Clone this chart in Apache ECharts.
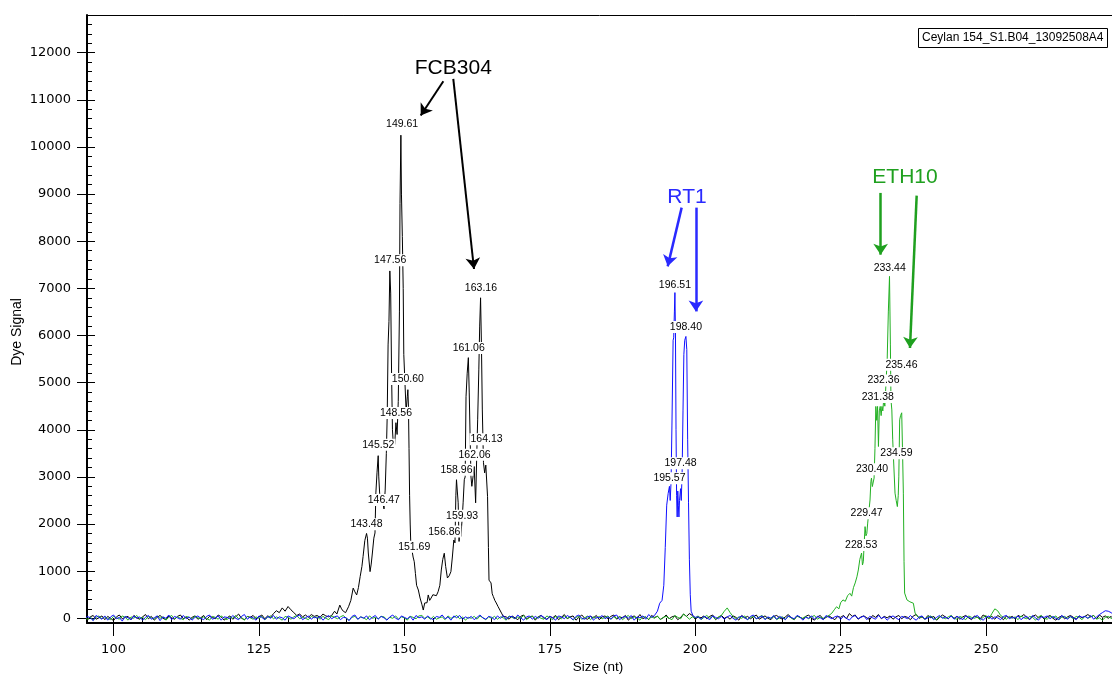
<!DOCTYPE html>
<html><head><meta charset="utf-8">
<script src="https://cdn.jsdelivr.net/npm/echarts@6/dist/echarts.min.js"></script>
<style>html,body{margin:0;padding:0;background:#fff}#c{width:1112px;height:677px}</style>
</head><body><div id="c"></div>
<script>
// ---------- DATA ----------
const sampleTitle = 'Ceylan 154_S1.B04_13092508A4';
const xTickLabels = [100, 125, 150, 175, 200, 225, 250];
const yTickLabels = [0, 1000, 2000, 3000, 4000, 5000, 6000, 7000, 8000, 9000, 10000, 11000, 12000];

// baseline noise, one value every 0.5 nt starting at 95.0 nt
const GRID_START = 95.0, GRID_STEP = 0.5;
const blackNoise = [
 20,-40,30,60,-20,10,50,-30,40,0,-50,30,70,-10,20,40,-30,60,10,-20,
 30,80,-10,40,-40,20,60,0,-30,50,10,-20,40,70,-10,30,-40,20,50,-20,
 10,60,-30,40,20,-10,70,30,-40,10,50,-20,30,90,0,-30,40,20,60,-10,
 30,70,-10,50,20,100,160,120,220,150,250,180,120,60,90,30,70,20,80,40,
 60,20,90,50,30,0,0,0,0,0,0,0,0,0,0,0,0,0,0,0,
 0,0,0,0,0,0,0,0,0,0,0,0,0,0,0,0,0,0,0,0,
 0,0,0,0,0,0,0,0,0,0,0,0,0,0,0,0,0,0,0,0,
 0,0,0,0,0,30,-20,50,10,-30,40,70,-10,20,50,-40,30,60,0,-20,
 40,10,60,-30,20,80,-10,30,50,-40,20,70,0,-20,40,10,60,-30,30,50,
 -10,40,70,-20,30,10,60,-40,20,50,0,80,-10,30,-30,60,20,40,-20,10,
 70,-10,30,50,-30,20,90,40,100,60,-20,30,10,50,-10,40,70,-30,20,60,
 0,30,-20,50,20,-40,60,10,40,-10,30,70,-20,20,50,0,-30,40,60,10,
 -20,30,80,10,-30,50,20,-10,40,70,0,-40,30,60,-20,20,50,10,-30,40,
 20,60,-10,100,40,70,-20,30,50,10,-30,60,20,80,-10,40,10,50,-20,30,
 60,-10,40,20,-30,50,80,0,30,-20,60,10,40,-40,20,70,30,-10,50,0,
 40,-20,30,60,10,-30,50,20,-10,70,30,0,40,-20,60,20,-30,50,10,40,
 -10,60,30,80,20,-30,40,70,10,50,-20,30,60,0,-40,20,50,-10,30,60,
 20,-20,50,10,40,80,30,60,-10,70,20,50,0,40,-30,60,30,10,50,20
];
const blueNoise = [
 -30,40,10,-50,60,20,-20,50,-40,30,70,-10,20,-60,40,10,-30,50,0,30,
 -40,20,60,-20,10,50,-50,30,0,70,-30,40,10,-20,60,-10,30,-40,20,50,
 0,-30,40,70,-20,10,50,-40,30,20,-10,60,0,-30,40,80,-20,30,10,-40,
 50,20,-30,40,0,60,-20,30,10,-40,50,20,-10,40,70,-30,10,50,-20,30,
 0,40,-40,20,60,-10,30,50,-30,20,10,-50,40,70,-20,30,0,50,-30,20,
 60,-20,40,10,-40,30,70,0,-30,50,20,-10,40,-40,60,10,30,-20,50,0,
 -30,40,20,70,-10,30,-40,50,10,60,-20,30,0,40,-30,20,70,10,-20,40,
 20,-30,50,0,60,-20,30,40,-10,70,10,-40,30,50,-20,40,0,60,20,-30,
 40,10,-40,50,30,-10,60,20,-30,40,70,0,-20,30,50,-40,20,10,60,-10,
 30,-20,50,70,-30,20,40,0,60,-40,30,10,50,-20,80,0,0,0,0,0,
 0,0,0,0,0,0,0,0,0,0,0,30,-20,40,10,-30,50,20,-10,40,
 -20,30,60,0,-40,20,50,10,-30,40,70,-10,20,50,-30,30,0,60,-20,40,
 10,-30,50,20,-10,60,30,-40,20,0,50,-20,40,10,-30,60,20,-10,30,50,
 -20,40,0,-40,30,60,-10,20,50,-30,40,10,-20,60,0,30,-40,20,50,10,
 -30,40,20,-10,60,0,-40,30,50,-20,10,40,-30,20,60,0,30,-10,50,-20,
 40,10,-30,50,20,-10,30,60,0,-40,20,50,-20,30,10,-30,40,60,-10,20,
 0,50,-30,20,40,-20,60,10,-40,30,20,50,-10,40,0,-30,60,20,-20,40,
 10,-30,50,20,40,0,60,-20,30,80,120,160,150,120,60,40,20,30,10,0
];
const greenNoise = [
 10,-20,30,-40,20,50,-10,30,0,-30,40,10,-20,50,20,-40,30,0,60,-10,
 20,-30,40,10,-20,50,0,30,-40,20,60,-10,30,0,-30,40,20,-20,50,10,
 -10,30,0,-40,40,20,-20,50,10,-30,30,0,60,-10,20,-40,40,10,-20,30,
 0,40,-30,20,50,-10,30,0,-40,40,20,-20,30,60,-10,20,0,-30,40,10,
 30,-20,40,0,-30,50,20,-10,30,60,0,-40,20,40,-20,30,10,-30,50,0,
 20,-10,40,30,-30,20,0,50,-20,30,10,-40,40,20,-10,50,60,0,30,-20,
 40,-20,10,30,-30,50,0,20,60,-10,30,-40,20,0,40,-20,50,10,-30,30,
 0,40,-20,30,10,-40,50,20,-10,30,0,60,-30,20,40,-10,30,0,-20,50,
 10,-30,40,20,-10,50,0,30,-40,20,40,-20,10,50,-30,30,0,40,-10,20,
 50,-20,30,0,40,-30,20,60,-10,30,10,-40,40,20,-20,30,0,50,-30,20,
 40,0,-30,60,20,-10,90,40,-20,30,10,50,-30,20,60,0,40,-20,30,60,
 150,220,120,40,-20,30,0,50,-30,20,40,-10,30,60,-20,20,0,40,-30,10,
 30,-20,40,10,-30,50,20,0,40,-10,30,60,-20,20,0,0,0,0,0,0,
 0,0,0,0,0,0,0,0,0,0,0,0,0,0,0,0,0,0,0,0,
 0,0,0,0,0,0,0,0,40,-20,30,50,0,-30,40,20,-10,30,60,0,
 -20,40,10,-30,50,20,0,30,-40,20,60,-10,100,200,160,60,20,-20,40,0,
 30,-30,50,10,-10,40,20,-40,30,60,0,-20,40,10,50,-30,20,40,0,30,
 -10,40,20,-30,50,0,30,60,-20,10,-40,20,40,0,-20,30,10,50,-10,20
];

// FCB304 (black) peak region
const blackPeakSizes = [137.5,138.0,138.4,138.9,139.2,139.5,139.9,140.4,140.8,141.2,141.5,141.8,142.1,142.4,142.7,142.9,143.2,143.5,143.65,143.8,
 144.1,144.3,144.5,144.75,144.95,145.1,145.3,145.5,145.6,145.75,145.9,146.1,146.3,146.5,146.7,146.9,147.05,147.2,147.35,147.5,
 147.65,147.8,147.95,148.15,148.35,148.55,148.75,148.95,149.15,149.25,149.4,149.5,149.65,149.8,149.9,150.1,150.3,150.5,150.6,150.7,
 150.8,150.9,151.0,151.1,151.3,151.5,151.7,151.9,152.1,152.4,152.7,153.0,153.25,153.5,153.9,154.1,154.35,154.6,154.9,155.2,
 155.5,155.8,156.1,156.35,156.6,156.86,157.1,157.4,157.7,158.0,158.25,158.5,158.7,158.85,158.96,159.1,159.25,159.4,159.55,159.7,
 159.93,160.1,160.3,160.45,160.6,160.8,161.0,161.15,161.3,161.45,161.6,161.8,162.0,162.1,162.25,162.45,162.6,162.8,162.95,163.1,
 163.25,163.4,163.6,163.8,164.0,164.15,164.3,164.45,164.55,164.9,165.1,165.3,165.55,165.8,166.1,166.4,166.7,167.0];
const blackPeakSignal = [60,150,90,280,200,150,120,245,380,640,560,495,650,885,1100,1310,1650,1800,1700,1385,
 990,1150,1385,1700,1810,2660,3100,3450,3000,2650,2500,2600,2450,2320,2720,3500,4300,5800,6300,7370,
 6900,5200,4000,3600,3700,4150,3900,4600,6500,8800,10250,9000,8100,7000,5600,5000,4400,4700,4850,4500,
 3600,2600,2000,1590,1450,1300,1200,950,700,600,430,300,175,325,330,495,380,430,500,535,
 480,565,700,1025,1250,1380,1100,855,900,990,1300,1660,1600,2600,2940,2700,2450,1630,1900,1735,
 2100,2450,2940,3000,4700,5200,5530,4800,3860,3000,2800,3000,3220,3250,2450,3500,4210,5270,6200,6800,
 5800,4420,3300,3085,3250,3255,2580,1500,810,750,520,460,380,325,250,220,110,40];

// RT1 (blue) peak region
const bluePeakSizes = [192.5,193.0,193.5,193.9,194.3,194.6,194.85,195.1,195.35,195.57,195.7,195.85,196.0,196.2,196.3,196.42,196.51,196.6,196.7,196.8,
 196.9,197.0,197.1,197.2,197.3,197.48,197.6,197.75,197.9,198.05,198.2,198.4,198.55,198.7,198.85,199.0,199.15,199.3,199.6,200.0];
const bluePeakSignal = [20,60,150,320,380,700,1500,2400,2650,2800,2500,2900,4100,5900,5950,6500,6910,6100,4000,2600,
 2150,2700,2400,2150,2500,2750,2500,3100,4400,5600,5900,5980,5700,3800,2450,1240,500,150,60,20];

// ETH10 (green) peak region
const greenPeakSizes = [222.5,223.0,223.5,223.9,224.3,224.7,225.0,225.4,225.8,226.2,226.6,226.9,227.2,227.5,227.8,228.04,228.3,228.6,228.75,228.9,
 229.05,229.2,229.35,229.5,229.65,229.8,230.05,230.2,230.3,230.45,230.6,230.75,230.9,231.05,231.2,231.35,231.5,231.65,231.8,231.96,
 232.1,232.25,232.4,232.6,232.8,233.0,233.2,233.4,233.55,233.65,233.8,233.95,234.1,234.35,234.55,234.75,234.9,235.0,235.15,235.3,
 235.5,235.65,235.78,235.9,236.0,236.4,236.7,236.9,237.2,237.5,237.8,238.2,238.6];
const greenPeakSignal = [30,60,110,180,245,200,330,390,360,480,530,470,650,750,880,1025,1250,1385,1130,1200,
 1600,1945,1750,1800,2020,2000,2510,2900,2975,2795,2800,2975,3600,4495,4200,4495,3645,4400,4495,4300,
 4495,4400,4635,4500,5000,5485,6500,7255,5800,4635,4420,3800,3360,2655,2500,2370,2600,3000,4210,4300,
 4360,3500,2655,1200,535,390,420,350,340,320,110,40,10];

// peak calls (size) and the signal level at which each call label is printed
const blackCallSizes  = [143.48,145.52,146.47,147.56,148.56,149.61,150.60,151.69,156.86,158.96,159.93,161.06,162.06,163.16,164.13];
const blackCallLevels = [1996,3680,2512,7594,4353,10477,5075,1520,1839,3149,2173,5734,3468,7008,3801];
const blueCallSizes   = [195.57,196.51,197.48,198.40];
const blueCallLevels  = [2973,7078,3292,6180];
const greenCallSizes  = [228.53,229.47,230.40,231.38,232.36,233.44,234.59,235.46];
const greenCallLevels = [1557,2230,3164,4693,5046,7433,3504,5379];

// locus annotations: name, anchor [size, signal], arrows [[from],[to]]
const locusNames   = ['FCB304', 'RT1', 'ETH10'];
const locusAnchors = [[158.41, 11661], [198.59, 8936], [236.06, 9350]];
const fcbArrows = [[[156.7, 11395], [152.81, 10667]], [[158.41, 11446], [161.97, 7411]]];
const rt1Arrows = [[[197.67, 8713], [195.27, 7467]], [[200.12, 8713], [200.12, 6511]]];
const ethArrows = [[[231.88, 9025], [231.88, 7715]], [[238.07, 8968], [236.92, 5734]]];

// ---------- BUILD ----------
function buildTrace(noise, pSizes, pValues) {
  const pts = [];
  const lo = pSizes[0], hi = pSizes[pSizes.length - 1];
  noise.forEach((v, i) => {
    const s = GRID_START + i * GRID_STEP;
    if (s < lo || s > hi) pts.push([s, v]);
  });
  pSizes.forEach((s, i) => pts.push([s, pValues[i]]));
  pts.sort((a, b) => a[0] - b[0]);
  return pts;
}
const X_MIN = 95.44, X_MAX = 271.65, Y_MIN = -100, Y_MAX = 12800;
const xMinorTicks = []; for (let v = 100; v <= 270; v += 5) xMinorTicks.push(v);
const yMinorTicks = []; for (let v = 200; v <= 12800; v += 200) if (v % 1000) yMinorTicks.push(v);

const BLACK = '#000000', BLUE = '#1010ff', GREEN = '#22b022';
const TXT_BLUE = '#2a2aff', TXT_GREEN = '#1fa01f';
const tickFont = { fontFamily: 'DejaVu Sans', fontSize: 13, color: '#000' };

function arrowLine(arrows, color, width) {
  return {
    silent: true, animation: false,
    symbol: ['none', 'arrow'], symbolSize: 11,
    label: { show: false },
    lineStyle: { color: color, width: width, type: 'solid', opacity: 1 },
    itemStyle: { color: color },
    emphasis: { disabled: true },
    data: arrows.map(a => [{ coord: a[0] }, { coord: a[1] }])
  };
}
function callSeries(sizes, levels) {
  return {
    type: 'scatter', xAxisIndex: 0, yAxisIndex: 0, z: 10, silent: true,
    symbolSize: 1, itemStyle: { color: 'rgba(0,0,0,0)', opacity: 1 },
    data: sizes.map((s, i) => [s, levels[i]]),
    label: {
      show: true, position: 'inside', opacity: 1,
      formatter: p => p.value[0].toFixed(2),
      fontFamily: 'Liberation Sans', fontSize: 10.5, color: '#000',
      textBorderWidth: 0,
      backgroundColor: '#fff', padding: [1, 1, 0, 1]
    }
  };
}

const chart = echarts.init(document.getElementById('c'), null, { renderer: 'canvas' });
chart.setOption({
  animation: false,
  backgroundColor: '#fff',
  title: {
    text: sampleTitle, left: 918, top: 28, padding: [4, 4, 4, 4],
    borderColor: '#000', borderWidth: 1,
    textStyle: { fontFamily: 'Liberation Sans', fontSize: 12, fontWeight: 'normal', color: '#000' }
  },
  grid: { left: 87, right: 0, top: 15, bottom: 54, containLabel: false },
  xAxis: [
    { type: 'value', min: X_MIN, max: X_MAX, position: 'bottom',
      axisLine: { show: true, onZero: false, lineStyle: { color: '#000', width: 2 } },
      axisTick: { show: true, inside: false, length: 13, customValues: xTickLabels, lineStyle: { color: '#000', width: 1 } },
      axisLabel: Object.assign({ show: true, margin: 20, customValues: xTickLabels, formatter: v => String(v) }, tickFont),
      splitLine: { show: false } },
    { type: 'value', min: X_MIN, max: X_MAX, position: 'bottom',
      axisLine: { show: false, onZero: false },
      axisTick: { show: true, inside: true, length: 5, customValues: xMinorTicks, lineStyle: { color: '#000', width: 1 } },
      axisLabel: { show: false }, splitLine: { show: false } },
    { type: 'value', min: X_MIN, max: X_MAX, position: 'top',
      axisLine: { show: true, onZero: false, lineStyle: { color: '#000', width: 1 } },
      axisTick: { show: false }, axisLabel: { show: false }, splitLine: { show: false } }
  ],
  yAxis: [
    { type: 'value', min: Y_MIN, max: Y_MAX, position: 'left',
      axisLine: { show: true, onZero: false, lineStyle: { color: '#000', width: 2 } },
      axisTick: { show: true, inside: false, length: 10, customValues: yTickLabels, lineStyle: { color: '#000', width: 1 } },
      axisLabel: Object.assign({ show: true, margin: 16, customValues: yTickLabels, formatter: v => String(v) }, tickFont),
      splitLine: { show: false } },
    { type: 'value', min: Y_MIN, max: Y_MAX, position: 'left',
      axisLine: { show: false, onZero: false },
      axisTick: { show: true, inside: true, length: 8, customValues: yTickLabels, lineStyle: { color: '#000', width: 1 } },
      axisLabel: { show: false }, splitLine: { show: false } },
    { type: 'value', min: Y_MIN, max: Y_MAX, position: 'left',
      axisLine: { show: false, onZero: false },
      axisTick: { show: true, inside: true, length: 5, customValues: yMinorTicks, lineStyle: { color: '#000', width: 1 } },
      axisLabel: { show: false }, splitLine: { show: false } }
  ],
  graphic: [
    { type: 'text', x: 17, y: 332, rotation: Math.PI / 2,
      style: { text: 'Dye Signal', font: '14px "Liberation Sans"', fill: '#000', align: 'center', verticalAlign: 'middle' } },
    { type: 'text', x: 598, y: 667,
      style: { text: 'Size (nt)', font: '13.5px "Liberation Sans"', fill: '#000', align: 'center', verticalAlign: 'middle' } }
  ],
  series: [
    { name: 'FCB304', type: 'line', xAxisIndex: 0, yAxisIndex: 0, showSymbol: false, symbol: 'none', clip: true,
      lineStyle: { color: BLACK, width: 1 }, itemStyle: { color: BLACK }, z: 2,
      data: buildTrace(blackNoise, blackPeakSizes, blackPeakSignal),
      markLine: arrowLine(fcbArrows, BLACK, 2) },
    { name: 'ETH10', type: 'line', xAxisIndex: 0, yAxisIndex: 0, showSymbol: false, symbol: 'none', clip: true,
      lineStyle: { color: GREEN, width: 1 }, itemStyle: { color: GREEN }, z: 3,
      data: buildTrace(greenNoise, greenPeakSizes, greenPeakSignal),
      markLine: arrowLine(ethArrows, TXT_GREEN, 2.5) },
    { name: 'RT1', type: 'line', xAxisIndex: 0, yAxisIndex: 0, showSymbol: false, symbol: 'none', clip: true,
      lineStyle: { color: BLUE, width: 1 }, itemStyle: { color: BLUE }, z: 4,
      data: buildTrace(blueNoise, bluePeakSizes, bluePeakSignal),
      markLine: arrowLine(rt1Arrows, TXT_BLUE, 2.5) },
    callSeries(blackCallSizes, blackCallLevels),
    callSeries(blueCallSizes, blueCallLevels),
    callSeries(greenCallSizes, greenCallLevels),
    { type: 'scatter', xAxisIndex: 0, yAxisIndex: 0, z: 11, silent: true,
      symbolSize: 1, itemStyle: { color: 'rgba(0,0,0,0)', opacity: 1 },
      data: locusNames.map((n, i) => ({ value: locusAnchors[i], name: n,
        label: { color: [BLACK, TXT_BLUE, TXT_GREEN][i] } })),
      label: { show: true, position: 'inside', opacity: 1, textBorderWidth: 0, formatter: p => p.name,
        fontFamily: 'Liberation Sans', fontSize: 21 } }
  ]
});
</script></body></html>
